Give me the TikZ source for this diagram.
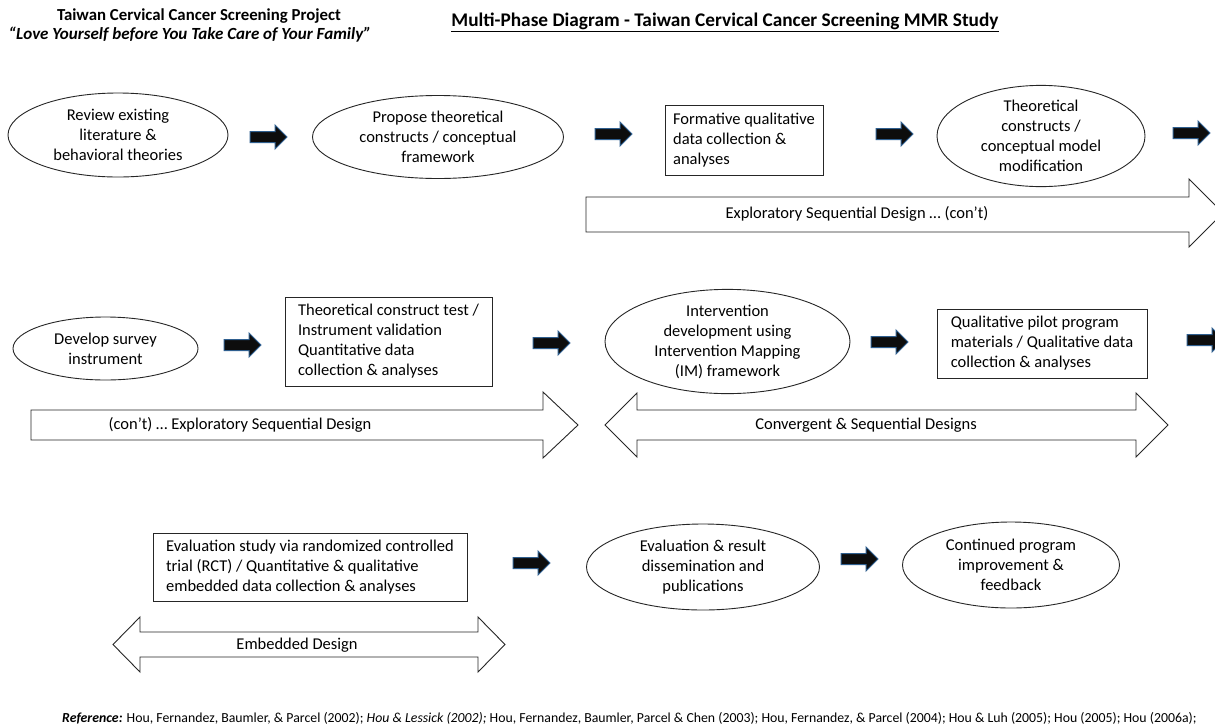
\documentclass[tikz,border=0pt]{standalone}
\usepackage{fontspec}
\setmainfont{Carlito}
\usetikzlibrary{shapes.geometric}
\definecolor{arrowedge}{HTML}{2F5F8F}
\definecolor{inkline}{HTML}{262626}
\begin{document}
\begin{tikzpicture}[x=1pt,y=-1pt,
  body/.style={font=\fontsize{16.5}{20}\selectfont},
  oval/.style={draw=inkline, ellipse, inner sep=0pt, align=center, body, line width=0.9pt},
  stepbox/.style={draw=inkline, rectangle, inner sep=0pt, align=left, body, line width=0.9pt},
  bandarrow/.style={draw=inkline, fill=white, line width=0.9pt, line join=miter},
  bandlabel/.style={body, inner sep=0pt},
  blockarrow/.pic={\draw[fill=black!95, draw=arrowedge, line width=1pt]
      (-18.5,-5.5) -- (6.5,-5.5) -- (6.5,-12) -- (18.5,0) -- (6.5,12) -- (6.5,5.5) -- (-18.5,5.5) -- cycle;}
]
\useasboundingbox (0,0) rectangle (1215,726);
\clip (0,0) rectangle (1215,726);
\fill[white] (0,0) rectangle (1215,726);

% headings
\node[font=\bfseries\fontsize{16.8}{19}\selectfont] (proj) at (199,16) {Taiwan Cervical Cancer Screening Project};
\node[font=\bfseries\itshape\fontsize{17}{19}\selectfont] (motto) at (190,35) {“Love Yourself before You Take Care of Your Family”};
\node[font=\bfseries\fontsize{19.3}{22}\selectfont] (title) at (725,22) {\underline{Multi-Phase Diagram - Taiwan Cervical Cancer Screening MMR Study}};

% phase row 1
\node[oval, minimum width=220pt, minimum height=84pt] (lit) at (118,135) {Review existing\\literature \&\\behavioral theories};
\node[oval, minimum width=251pt, minimum height=83pt] (prop) at (438,137) {Propose theoretical\\constructs / conceptual\\framework};
\node[stepbox, minimum width=158pt, minimum height=70pt] (form) at (744,140) {Formative qualitative\\data collection \&\\analyses};
\node[oval, minimum width=208pt, minimum height=72pt] (mod) at (1041,136) {Theoretical\\constructs /\\conceptual model\\modification};

\pic (k1) at (268.5,137) {blockarrow};
\pic (k2) at (613.5,134) {blockarrow};
\pic (k3) at (894.5,134) {blockarrow};
\pic (k4) at (1191.5,133) {blockarrow};

\draw[bandarrow] (586,197) -- (1189,197) -- (1189,179) -- (1223,213) -- (1189,247) -- (1189,232) -- (586,232) -- cycle;
\node[bandlabel] (esd1) at (857,214) {Exploratory Sequential Design … (con’t)};

% phase row 2
\node[oval, minimum width=185pt, minimum height=63pt] (survey) at (105.5,348.5) {Develop survey\\instrument};
\node[stepbox, minimum width=207pt, minimum height=89pt] (valid) at (388.5,341.5) {Theoretical construct test /\\Instrument validation\\Quantitative data\\collection \& analyses};
\node[oval, minimum width=245pt, minimum height=89pt] (im) at (727.5,341.5) {Intervention\\development using\\Intervention Mapping\\(IM) framework};
\node[stepbox, minimum width=210pt, minimum height=69pt] (pilot) at (1042,343.5) {Qualitative pilot program\\materials / Qualitative data\\collection \& analyses};

\pic (k5) at (242.5,345) {blockarrow};
\pic (k6) at (551.5,343) {blockarrow};
\pic (k7) at (889.5,342) {blockarrow};
\pic (k8) at (1205.5,340) {blockarrow};

\draw[bandarrow] (31,410) -- (543,410) -- (543,392) -- (578,425) -- (543,458) -- (543,440) -- (31,440) -- cycle;
\node[bandlabel] (esd2) at (240,425) {(con’t) … Exploratory Sequential Design};

\draw[bandarrow] (605,425) -- (637,393) -- (637,410) -- (1136,410) -- (1136,393) -- (1168,425)
  -- (1136,457) -- (1136,440) -- (637,440) -- (637,457) -- cycle;
\node[bandlabel] (conv) at (866,425) {Convergent \& Sequential Designs};

% phase row 3
\node[stepbox, minimum width=314pt, minimum height=68pt] (rct) at (310,567) {Evaluation study via randomized controlled\\trial (RCT) / Quantitative \& qualitative\\embedded data collection \& analyses};
\node[oval, minimum width=233pt, minimum height=86pt] (diss) at (703,567) {Evaluation \& result\\dissemination and\\publications};
\node[oval, minimum width=217pt, minimum height=86pt] (cont) at (1011,565) {Continued program\\improvement \&\\feedback};

\pic (k9) at (531.5,563) {blockarrow};
\pic (k10) at (859.5,559) {blockarrow};

\draw[bandarrow] (113,644.5) -- (140,617) -- (140,632) -- (478,632) -- (478,617) -- (505,644.5)
  -- (478,672) -- (478,657) -- (140,657) -- (140,672) -- cycle;
\node[bandlabel] (emb) at (297,645) {Embedded Design};

% references
\node[anchor=west, inner sep=0pt, font=\fontsize{13.8}{16}\selectfont] (refs) at (62,718)
  {\textbf{\textit{Reference:}} Hou, Fernandez, Baumler, \& Parcel (2002); \textit{Hou \& Lessick (2002);} Hou, Fernandez, Baumler, Parcel \& Chen (2003); Hou, Fernandez, \& Parcel (2004); Hou \& Luh (2005); Hou (2005); Hou (2006a);};
\end{tikzpicture}
\end{document}
